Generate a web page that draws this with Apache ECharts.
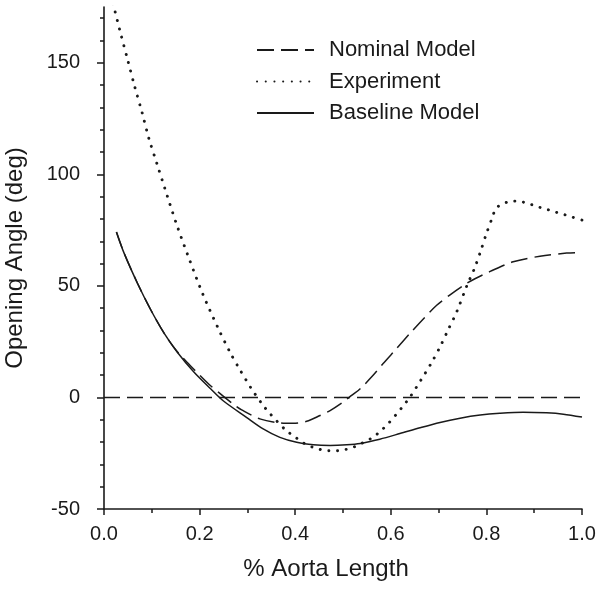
<!DOCTYPE html>
<html>
<head>
<meta charset="utf-8">
<script src="https://cdn.jsdelivr.net/npm/echarts@6/dist/echarts.min.js"></script>
<style>html,body{margin:0;padding:0;background:#fff;}#chart{width:600px;height:600px;}</style>
</head>
<body>
<div id="chart"></div>
<script>
const seriesNames = ['Nominal Model', 'Experiment', 'Baseline Model'];

const nominalX = [0.026, 0.042, 0.07, 0.098, 0.126, 0.153, 0.19, 0.22, 0.243, 0.274, 0.288, 0.326, 0.368, 0.396, 0.424, 0.452, 0.473, 0.5, 0.518, 0.536, 0.563, 0.584, 0.612, 0.64, 0.668, 0.696, 0.724, 0.755, 0.776, 0.808, 0.856, 0.912, 0.968, 1.0];
const nominalY = [74.2, 64.7, 51.2, 39.2, 28.7, 20.6, 12.2, 5.8, 1.7, -3.6, -5.6, -9.6, -11.4, -11.6, -10.7, -8.1, -5.9, -2.1, 0.9, 3.9, 9.9, 15.2, 21.9, 28.7, 35.2, 41.3, 46.0, 50.6, 53.2, 56.5, 60.8, 63.3, 64.7, 64.9];

const experimentX = [0.019, 0.034, 0.05, 0.064, 0.0795, 0.094, 0.111, 0.128, 0.152, 0.178, 0.206, 0.238, 0.265, 0.285, 0.307, 0.332, 0.347, 0.38, 0.399, 0.417, 0.434, 0.452, 0.47, 0.488, 0.506, 0.524, 0.56, 0.579, 0.596, 0.611, 0.626, 0.64, 0.663, 0.685, 0.704, 0.721, 0.738, 0.759, 0.775, 0.788, 0.80, 0.813, 0.82, 0.835, 0.853, 0.871, 0.889, 0.907, 0.925, 0.943, 0.962, 0.98, 1.0];
const experimentY = [176.5, 163.8, 150.9, 139.5, 127.8, 116, 104.6, 93.2, 77.5, 62.2, 46.7, 31.4, 19.7, 12.2, 4.4, -3.3, -7.2, -14.6, -17.6, -20.4, -22.1, -23.3, -23.9, -23.9, -23.3, -22.1, -18.2, -15.0, -11.4, -7.7, -3.8, 0.1, 7.8, 15.5, 23.1, 30.8, 38.4, 50.0, 57.8, 65.6, 73.4, 81, 84.8, 86.8, 88, 87.8, 86.8, 85.5, 84.4, 83.2, 82, 80.8, 79.5];

const baselineX = [0.026, 0.042, 0.07, 0.098, 0.126, 0.153, 0.188, 0.223, 0.25, 0.298, 0.333, 0.368, 0.403, 0.438, 0.473, 0.508, 0.536, 0.577, 0.619, 0.661, 0.703, 0.745, 0.787, 0.828, 0.877, 0.926, 0.961, 1.0];
const baselineY = [74.2, 64.7, 51.2, 39.2, 28.7, 20.4, 11.4, 3.9, -1.6, -8.9, -14.1, -17.9, -20.1, -21.2, -21.5, -21.2, -20.6, -18.7, -16.2, -13.6, -11.2, -9.3, -7.9, -7.1, -6.6, -6.9, -7.5, -8.8];

const yMajorTicks = [-50, 0, 50, 100, 150];
const yMinorTicks = [-40, -30, -20, -10, 10, 20, 30, 40, 60, 70, 80, 90, 110, 120, 130, 140, 160, 170];
const referenceY = 0;

function zip(xs, ys) { return xs.map((x, i) => [x, ys[i]]); }

const FONT = 'Liberation Sans, Arial, sans-serif';
const INK = '#1a1a1a';

const chart = echarts.init(document.getElementById('chart'));
chart.setOption({
  animation: false,
  backgroundColor: '#fff',
  grid: { left: 104, right: 18, top: 7, bottom: 91, containLabel: false, outerBoundsMode: 'none' },
  legend: {
    orient: 'vertical',
    left: 256,
    top: 39,
    padding: 0,
    itemWidth: 57,
    itemHeight: 14,
    itemGap: 9.5,
    itemStyle: { color: 'transparent', borderColor: 'transparent', borderWidth: 0 },
    textStyle: { fontFamily: FONT, fontSize: 22, color: INK, padding: [0, 0, 0, 10], lineHeight: 20 },
    data: seriesNames
  },
  xAxis: {
    type: 'value', min: 0, max: 1, interval: 0.2,
    name: '% Aorta Length', nameLocation: 'middle', nameGap: 48,
    nameTextStyle: { fontFamily: FONT, fontSize: 24, color: INK, padding: [0, 34, 0, 0] },
    axisLine: { show: true, onZero: false, lineStyle: { color: INK, width: 1.6 } },
    axisTick: { show: true, length: 6, lineStyle: { color: INK, width: 1.5 } },
    minorTick: { show: true, splitNumber: 2, length: 4, lineStyle: { color: INK, width: 1.5 } },
    axisLabel: { fontFamily: FONT, fontSize: 20, color: INK, margin: 15, formatter: v => v.toFixed(1) },
    splitLine: { show: false }
  },
  yAxis: [{
    type: 'value', min: -50, max: 175,
    name: 'Opening Angle (deg)', nameLocation: 'middle', nameGap: 77,
    nameTextStyle: { fontFamily: FONT, fontSize: 24, color: INK },
    axisLine: { show: true, onZero: false, lineStyle: { color: INK, width: 1.6 } },
    axisTick: { show: true, length: 7, customValues: yMajorTicks, lineStyle: { color: INK, width: 1.5 } },
    axisLabel: { fontFamily: FONT, fontSize: 20, color: INK, margin: 24, customValues: yMajorTicks },
    splitLine: { show: false }
  }, {
    type: 'value', min: -50, max: 175, position: 'left',
    axisLine: { show: false },
    axisTick: { show: true, length: 4, customValues: yMinorTicks, lineStyle: { color: INK, width: 1.5 } },
    axisLabel: { show: false },
    splitLine: { show: false }
  }],
  series: [{
    name: seriesNames[0], type: 'line', data: zip(nominalX, nominalY),
    symbol: 'none', smooth: 0.3, clip: true,
    lineStyle: { color: INK, width: 1.5, type: [17, 7] },
    itemStyle: { color: INK }
  }, {
    name: seriesNames[1], type: 'line', data: zip(experimentX, experimentY),
    symbol: 'none', smooth: 0.3, clip: true,
    lineStyle: { color: INK, width: 2.9, type: [0.1, 8.6], cap: 'round' },
    itemStyle: { color: INK }
  }, {
    name: seriesNames[2], type: 'line', data: zip(baselineX, baselineY),
    symbol: 'none', smooth: 0.3, clip: true,
    lineStyle: { color: INK, width: 1.5, type: 'solid' },
    itemStyle: { color: INK },
    markLine: {
      silent: true, symbol: 'none', label: { show: false },
      lineStyle: { color: INK, width: 1.3, type: [16, 7] },
      data: [{ yAxis: referenceY }]
    }
  }]
});
</script>
</body>
</html>
